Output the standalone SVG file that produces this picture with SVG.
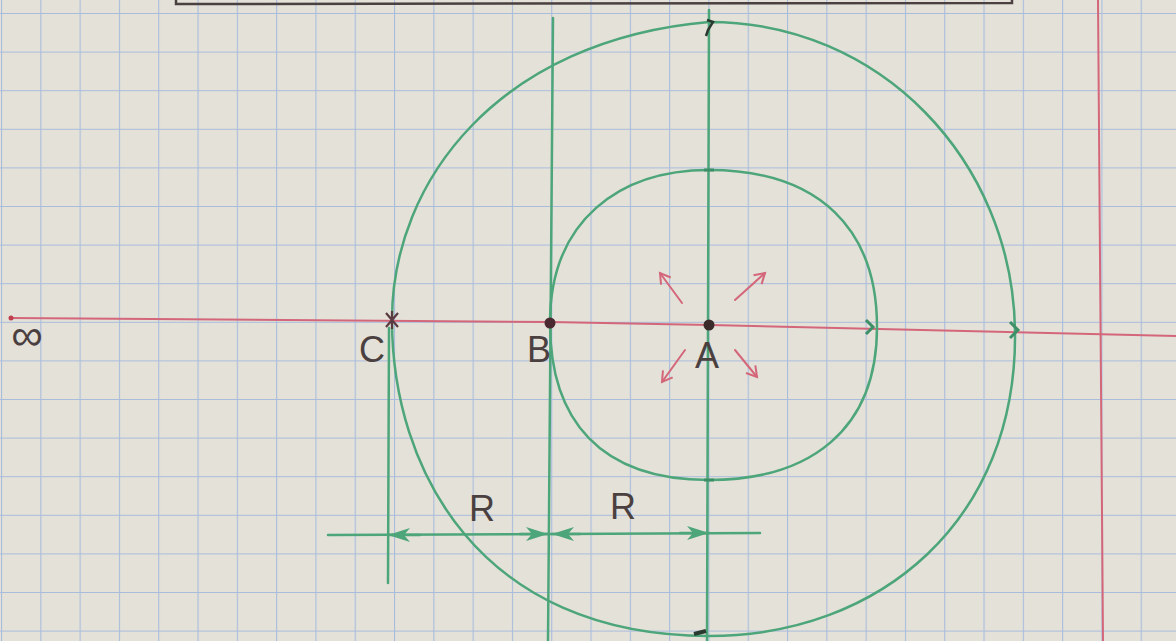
<svg xmlns="http://www.w3.org/2000/svg" width="1176" height="641" viewBox="0 0 1176 641">
<style>
.g{fill:none;stroke:#4da57a;stroke-width:2.5;stroke-linecap:round;stroke-linejoin:round}
.r{fill:none;stroke:#d4667a;stroke-width:2;stroke-linecap:round}
.lbl{font-family:"Liberation Sans",Arial,sans-serif;font-size:36px;fill:#4a4040;text-anchor:middle}
</style>
<defs>
<pattern id="grid" patternUnits="userSpaceOnUse" x="1" y="13" width="39.3" height="38.6">
<path d="M0,0 V38.6 M0,0 H39.3" stroke="#a9bcdc" stroke-width="2.2" fill="none"/>
</pattern>
<marker id="ga" markerUnits="userSpaceOnUse" markerWidth="26" markerHeight="16" refX="22" refY="8" orient="auto">
<path d="M0,1 L22,8 L0,15 L6,8 Z" fill="#4da57a"/>
</marker>
<marker id="ra" markerUnits="userSpaceOnUse" markerWidth="16" markerHeight="14" refX="12" refY="7" orient="auto">
<path d="M2,1 L12,7 L2,13" fill="none" stroke="#d4667a" stroke-width="2"/>
</marker>
</defs>
<rect width="1176" height="641" fill="#e4e1d9"/>
<rect width="1176" height="641" fill="url(#grid)"/>
<g id="frame">
<path d="M176,-2 L176,4 L1012,3 L1012,-2" fill="none" stroke="#4a4040" stroke-width="2.5"/>
</g>
<g id="axes">
<polyline class="r" points="10,318 550,322 710,325 1176,336"/>
<circle cx="11" cy="318" r="2.5" fill="#c04050"/>
<line class="r" x1="1098" y1="0" x2="1103" y2="641"/>
</g>
<g id="connectors">
<line class="g" x1="553" y1="18" x2="548" y2="641"/>
<line class="g" x1="709" y1="10" x2="707" y2="641"/>
<line class="g" x1="389" y1="328" x2="388" y2="583"/>
<path id="outer" class="g" d="M392,320 C392,180 500,40 709,22 C880,22 1012,160 1015,330 C1018,520 880,636 709,636 C480,636 392,470 392,320 Z"/>
<path id="inner" class="g" d="M550,323 C550,220 620,170 709,170 C820,170 877,230 877,327 C877,430 810,480 709,480 C600,480 550,420 550,323 Z"/>
<line class="g" x1="328" y1="535" x2="760" y2="533"/>
<path class="g" d="M420,535 L388,535" marker-end="url(#ga)"/>
<path class="g" d="M520,534 L548,534" marker-end="url(#ga)"/>
<path class="g" d="M580,534 L552,534" marker-end="url(#ga)"/>
<path class="g" d="M680,533 L709,533" marker-end="url(#ga)"/>
<path d="M866,320 L873,327 L866,334" fill="none" stroke="#3d8f68" stroke-width="3"/>
<path d="M1010,322 L1018,330 L1010,338" fill="none" stroke="#3d8f68" stroke-width="3"/>
<path d="M704,170 L714,170 M704,480 L714,480" stroke="#3d8f68" stroke-width="3"/>
<path d="M707,20 L713,22 L708,30 L706,36" fill="none" stroke="#2a3a30" stroke-width="2.5"/>
<path d="M694,634 L706,631" stroke="#2a3a30" stroke-width="4"/>
</g>
<g id="field" class="r">
<line x1="682" y1="303" x2="660" y2="273" marker-end="url(#ra)"/>
<line x1="735" y1="300" x2="765" y2="273" marker-end="url(#ra)"/>
<line x1="685" y1="350" x2="662" y2="382" marker-end="url(#ra)"/>
<line x1="735" y1="350" x2="757" y2="377" marker-end="url(#ra)"/>
</g>
<g id="node-inf"><text class="lbl" x="27" y="350" style="font-size:44px">∞</text></g>
<g id="node-C">
<path d="M386,313 L398,327 M398,313 L386,327 M392,311 L392,329" stroke="#5a3a40" stroke-width="2.2"/>
<text class="lbl" x="372" y="362">C</text>
</g>
<g id="node-B">
<circle cx="550" cy="323" r="5.5" fill="#4a2a30"/>
<text class="lbl" x="539" y="362">B</text>
</g>
<g id="node-A">
<circle cx="709" cy="325" r="5.5" fill="#3a2a2a"/>
<text class="lbl" x="707" y="368">A</text>
</g>
<g id="labels">
<text class="lbl" x="482" y="521">R</text>
<text class="lbl" x="623" y="519">R</text>
</g>
</svg>
